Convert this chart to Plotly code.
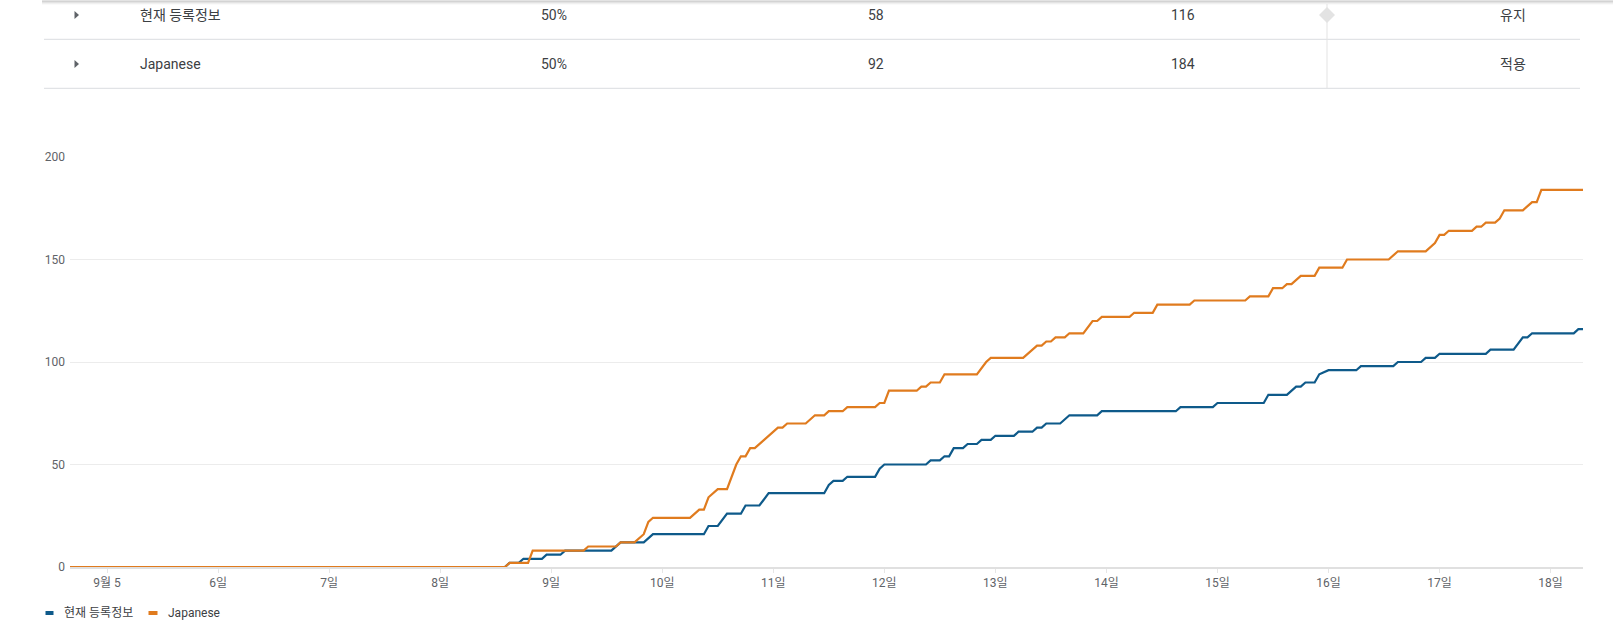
import pandas as pd
import plotly.graph_objects as go

# ---------------- data ----------------
BASE_DATE = "2023-09-05"
series_names = ["현재 등록정보", "Japanese"]

# hours since 9월 5 00:00 and cumulative values
current_hours = [-8, 86, 87, 89, 90, 94, 95, 98, 99, 109, 111, 116, 118, 129, 130, 132, 134, 137, 138, 141,
                 143, 155, 156, 157, 159, 160, 166, 167, 168, 177, 178, 180, 181, 182, 183, 185, 186, 188, 189, 191,
                 192, 196, 197, 200, 201, 202, 203, 206, 208, 214, 215, 231, 232, 239, 240, 250, 251, 255, 257, 258,
                 259, 261, 262, 264, 270, 271, 278, 279, 284, 285, 287, 288, 298, 299, 304, 306, 307, 308, 317, 318, 319]
current_values = [0, 0, 2, 2, 4, 4, 6, 6, 8, 8, 12, 12, 16, 16, 20, 20, 26, 26, 30, 30,
                  36, 36, 40, 42, 42, 44, 44, 48, 50, 50, 52, 52, 54, 54, 58, 58, 60, 60, 62, 62,
                  64, 64, 66, 66, 68, 68, 70, 70, 74, 74, 76, 76, 78, 78, 80, 80, 84, 84, 88, 88,
                  90, 90, 94, 96, 96, 98, 98, 100, 100, 102, 102, 104, 104, 106, 106, 112, 112, 114, 114, 116, 116]

japanese_hours = [-8, 86, 87, 91, 92, 103, 104, 110, 111, 114, 116, 117, 118, 126, 128, 129, 130, 132, 134, 136,
                  137, 138, 139, 140, 145, 146, 147, 151, 153, 155, 156, 159, 160, 166, 167, 168, 169, 175, 176, 177,
                  178, 180, 181, 188, 190, 191, 198, 201, 202, 203, 204, 205, 207, 208, 211, 213, 214, 215, 221, 222,
                  226, 227, 234, 235, 246, 247, 251, 252, 254, 255, 256, 258, 261, 262, 267, 268, 277, 279, 285, 287,
                  288, 289, 290, 295, 296, 297, 298, 300, 301, 302, 306, 308, 309, 310, 319]
japanese_values = [0, 0, 2, 2, 8, 8, 10, 10, 12, 12, 16, 22, 24, 24, 28, 28, 34, 38, 38, 50,
                   54, 54, 58, 58, 68, 68, 70, 70, 74, 74, 76, 76, 78, 78, 80, 80, 86, 86, 88, 88,
                   90, 90, 94, 94, 100, 102, 102, 108, 108, 110, 110, 112, 112, 114, 114, 120, 120, 122, 122, 124,
                   124, 128, 128, 130, 130, 132, 132, 136, 136, 138, 138, 142, 142, 146, 146, 150, 150, 154, 154, 158,
                   162, 162, 164, 164, 166, 166, 168, 168, 170, 174, 174, 178, 178, 184, 184]

x_range_hours = [-8, 319]
tick_days = list(range(5, 19))
tick_labels = ["9월 5"] + [f"{d}일" for d in range(6, 19)]
y_ticks = [0, 50, 100, 150, 200]

table_names = ["현재 등록정보", "Japanese"]
table_share = ["50%", "50%"]
table_col3 = ["58", "92"]
table_col4 = ["116", "184"]
table_action = ["유지", "적용"]

# ---------------- style ----------------
BLUE = "#0e5a8a"
ORANGE = "#e07b1e"
W, H = 1613, 627
ML, MR, MT, MB = 70, 30, 157, 60
PW, PH = W - ML - MR, H - MT - MB
FONT = "Roboto, 'Noto Sans CJK KR', sans-serif"


def px_x(px):
    return (px - ML) / PW


def px_y(py):
    return (H - MB - py) / PH


base = pd.Timestamp(BASE_DATE)


def to_time(hours):
    return [base + pd.Timedelta(hours=h) for h in hours]


fig = go.Figure()
fig.add_trace(go.Scatter(x=to_time(current_hours), y=current_values, mode="lines",
                         name=series_names[0], line=dict(color=BLUE, width=2.2),
                         showlegend=False))
fig.add_trace(go.Scatter(x=to_time(japanese_hours), y=japanese_values, mode="lines",
                         name=series_names[1], line=dict(color=ORANGE, width=2.2),
                         showlegend=False))

tick_vals = [pd.Timestamp(2023, 9, d) for d in tick_days]

shapes = []
annotations = []

# top shadow of sticky header
for i, op in enumerate([0.22, 0.14, 0.08, 0.04]):
    shapes.append(dict(type="line", xref="paper", yref="paper",
                       x0=px_x(42), x1=px_x(W), y0=px_y(1 + i), y1=px_y(1 + i),
                       line=dict(color=f"rgba(0,0,0,{op})", width=1)))

# table rows
row_y = [15, 64]
for ly in [39.3, 88.3]:
    shapes.append(dict(type="line", xref="paper", yref="paper",
                       x0=px_x(44), x1=px_x(1580), y0=px_y(ly), y1=px_y(ly),
                       line=dict(color="#dadce0", width=1)))
shapes.append(dict(type="line", xref="paper", yref="paper",
                   x0=px_x(1327), x1=px_x(1327), y0=px_y(4), y1=px_y(88),
                   line=dict(color="#e3e3e3", width=1)))
# diamond handle
dx, dy = px_x(1327), px_y(15)
hw, hh = 8 / PW, 8 / PH
shapes.append(dict(type="path", xref="paper", yref="paper",
                   path=f"M {dx - hw} {dy} L {dx} {dy + hh} L {dx + hw} {dy} L {dx} {dy - hh} Z",
                   fillcolor="#e3e3e3", line=dict(width=0)))

for i, ry in enumerate(row_y):
    tx, ty = px_x(74.5), px_y(ry)
    shapes.append(dict(type="path", xref="paper", yref="paper",
                       path=f"M {tx} {ty + 4 / PH} L {tx + 4.5 / PW} {ty} L {tx} {ty - 4 / PH} Z",
                       fillcolor="#5f6368", line=dict(width=0)))
    txt_font = dict(family=FONT, size=14, color="#3c4043")
    annotations.append(dict(x=px_x(138), y=px_y(ry), xref="paper", yref="paper", text=table_names[i],
                            showarrow=False, xanchor="left", yanchor="middle", font=txt_font))
    annotations.append(dict(x=px_x(539), y=px_y(ry), xref="paper", yref="paper", text=table_share[i],
                            showarrow=False, xanchor="left", yanchor="middle", font=txt_font))
    annotations.append(dict(x=px_x(866), y=px_y(ry), xref="paper", yref="paper", text=table_col3[i],
                            showarrow=False, xanchor="left", yanchor="middle", font=txt_font))
    annotations.append(dict(x=px_x(1169), y=px_y(ry), xref="paper", yref="paper", text=table_col4[i],
                            showarrow=False, xanchor="left", yanchor="middle", font=txt_font))
    annotations.append(dict(x=px_x(1513), y=px_y(ry), xref="paper", yref="paper", text=table_action[i],
                            showarrow=False, xanchor="center", yanchor="middle", font=txt_font))

# custom legend
leg_y = 613
for (x0, x1, tx, name, col) in [(44, 55, 62, series_names[0], BLUE), (147, 159, 166, series_names[1], ORANGE)]:
    shapes.append(dict(type="line", xref="paper", yref="paper",
                       x0=px_x(x0 + 1.5), x1=px_x(x1 - 1.5), y0=px_y(leg_y), y1=px_y(leg_y),
                       line=dict(color=col, width=4)))
    annotations.append(dict(x=px_x(tx), y=px_y(leg_y), xref="paper", yref="paper", text=name,
                            showarrow=False, xanchor="left", yanchor="middle",
                            font=dict(family=FONT, size=12, color="#3c4043")))

fig.update_layout(
    width=W, height=H,
    margin=dict(l=ML, r=MR, t=MT, b=MB, pad=0),
    paper_bgcolor="white", plot_bgcolor="white",
    font=dict(family=FONT, size=12, color="#5f6368"),
    showlegend=False,
    shapes=shapes,
    annotations=annotations,
    xaxis=dict(
        type="date",
        range=to_time(x_range_hours),
        tickvals=tick_vals, ticktext=tick_labels,
        showgrid=False, zeroline=False,
        showline=True, linecolor="#e0e0e0", linewidth=2,
        ticks="outside", ticklen=4, tickcolor="#e6e6e6", tickwidth=1,
        tickfont=dict(family=FONT, size=12, color="#5f6368"),
        fixedrange=True,
    ),
    yaxis=dict(
        range=[0, 200],
        tickvals=y_ticks,
        showgrid=True, gridcolor="#ececec", gridwidth=1,
        zeroline=False, showline=False, ticks="",
        ticklabelstandoff=4,
        tickfont=dict(family=FONT, size=12, color="#5f6368"),
        fixedrange=True,
    ),
)

fig.write_html(
    "out.html",
    config={"displayModeBar": False},
    post_script="document.body.style.margin='0';document.body.style.overflow='hidden';",
)
